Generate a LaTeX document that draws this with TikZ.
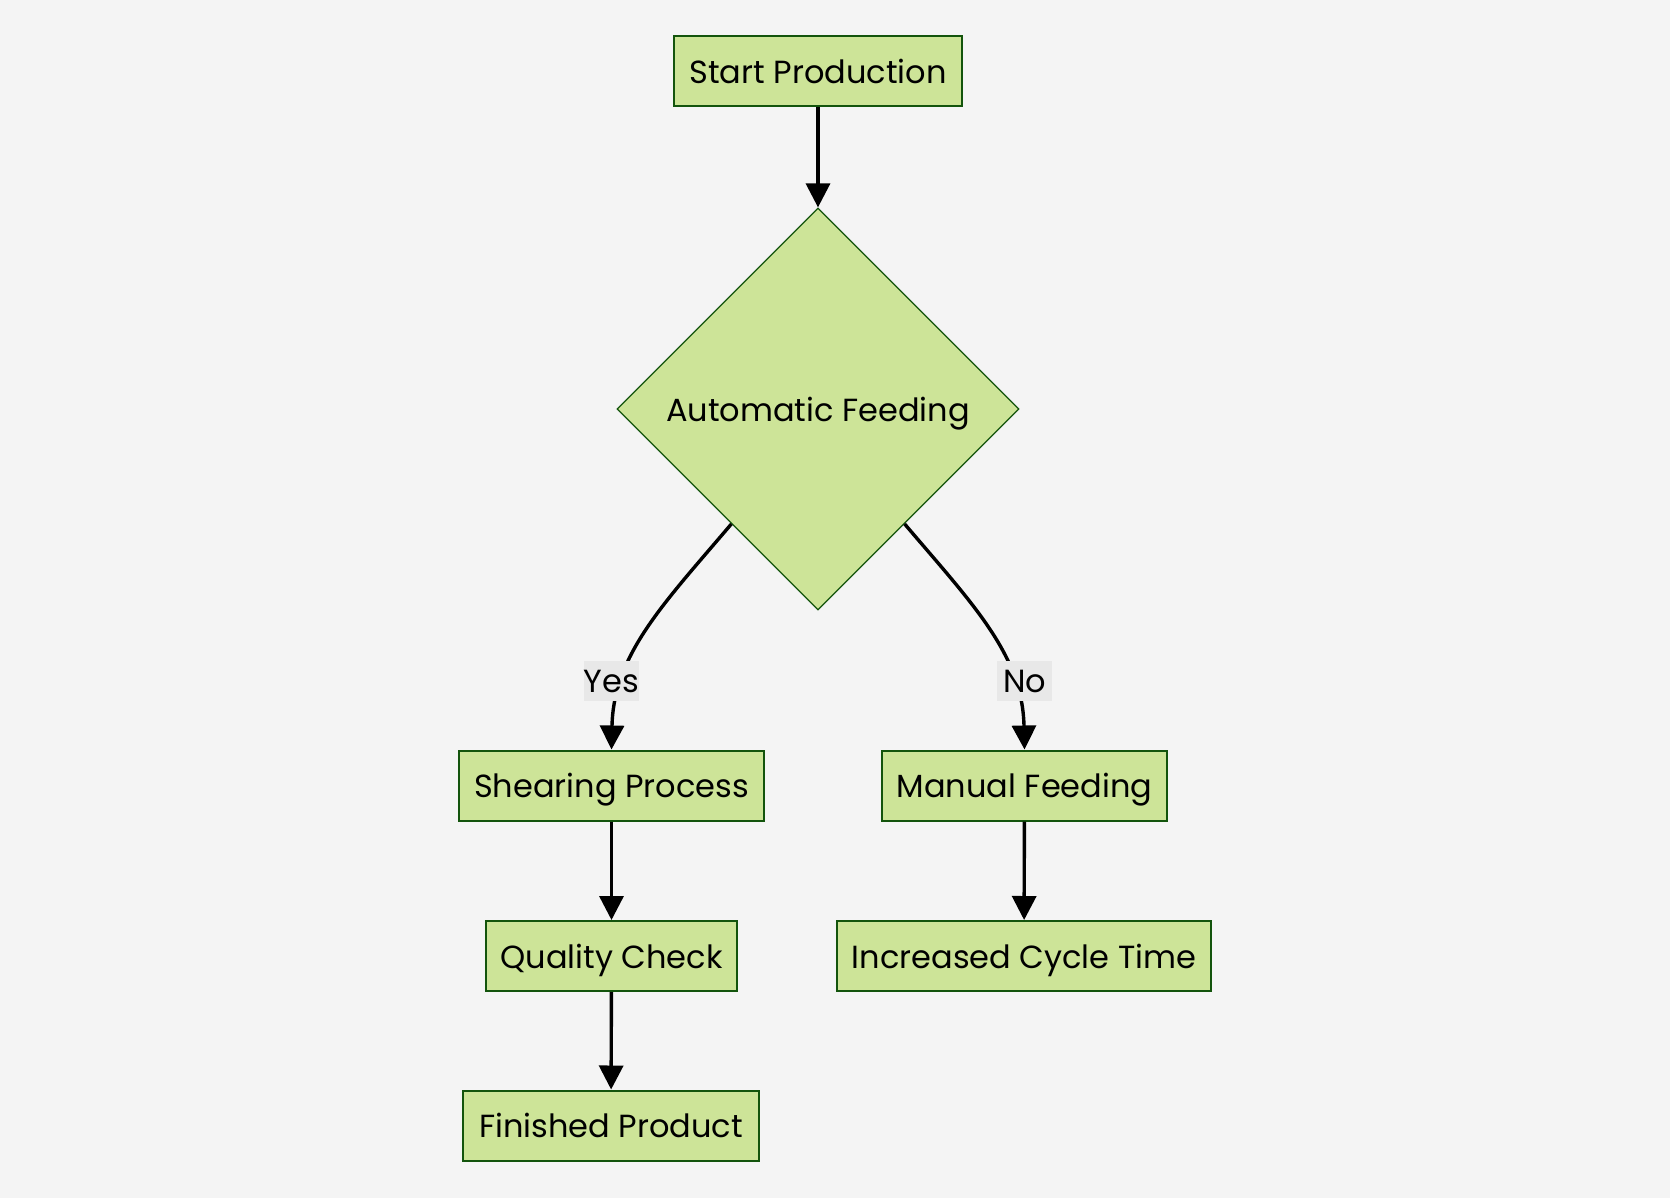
\documentclass[tikz,border=0pt]{standalone}
\usepackage{fontspec}
\setmainfont{Poppins}
\usetikzlibrary{shapes.geometric,arrows.meta}
\definecolor{bg}{HTML}{F4F4F4}
\definecolor{nodefill}{HTML}{CDE498}
\definecolor{nodedraw}{HTML}{13540C}
\definecolor{lblfill}{HTML}{E8E8E8}
\tikzset{
  txt/.style={font=\fontsize{16pt}{19pt}\selectfont, text height=14pt, text depth=2pt},
  box/.style={txt, draw=nodedraw, fill=nodefill, line width=1pt, inner sep=0pt,
    minimum height=35pt},
  decision/.style={txt, diamond, aspect=1, draw=nodedraw, fill=nodefill, line width=0.6pt,
    inner sep=0pt, minimum width=201pt, minimum height=201pt},
  edge/.style={line width=1.7pt, draw=black, -{Triangle[length=12pt,width=12pt]}},
  lbl/.style={txt, text height=13.5pt, text depth=2.5pt, fill=lblfill, inner sep=0pt,
    minimum width=27.5pt, minimum height=20pt}
}
\begin{document}
\begin{tikzpicture}[x=0.5pt,y=-0.5pt]
\fill[bg] (0,0) rectangle (1670,1198);
\useasboundingbox (0,0) rectangle (1670,1198);
\node[box, minimum width=144pt] (start) at (818,71.5) {Start Production};
\node[decision] (dec) at (818,409) {Automatic Feeding};
\node[box, minimum width=152.5pt] (shear) at (611.5,785.5) {Shearing Process};
\node[box, minimum width=142.5pt] (manual) at (1024.5,785.5) {Manual Feeding};
\node[box, minimum width=125.5pt] (quality) at (611.5,956) {Quality Check};
\node[box, minimum width=187pt] (incr) at (1024,956) {Increased Cycle Time};
\node[box, minimum width=148pt] (fin) at (611,1125.5) {Finished Product};

\draw[edge] (start) -- (dec);
\draw[edge] (dec.233) .. controls +(-68,80) and +(2,-95) .. (shear.north);
\draw[edge] (dec.307) .. controls +(68,80) and +(-2,-95) .. (manual.north);
\draw[edge] (shear) -- (quality);
\draw[edge] (quality) -- (fin);
\draw[edge] (manual) -- (incr);

\node[lbl] (yes) at (611.5,681) {Yes};
\node[lbl] (no) at (1024.5,681) {No};
\end{tikzpicture}
\end{document}
